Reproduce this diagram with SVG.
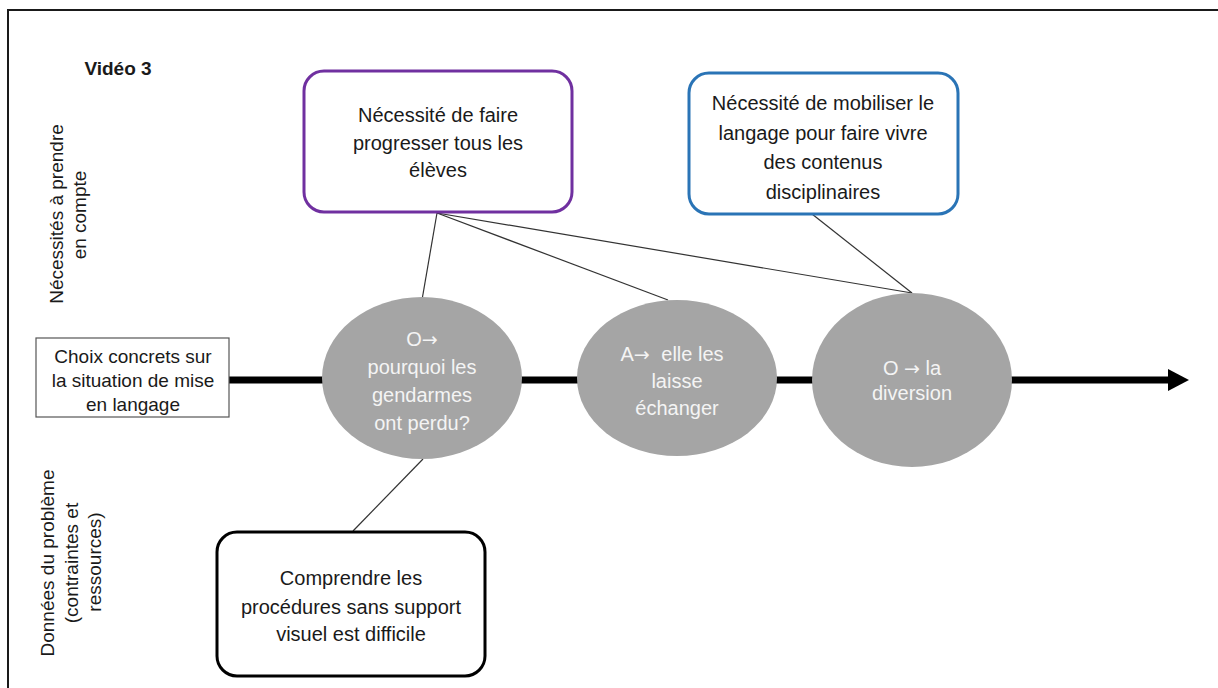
<svg xmlns="http://www.w3.org/2000/svg" width="1218" height="688" viewBox="0 0 1218 688">
<style>
text{font-family:"Liberation Sans",Arial,sans-serif;fill:#1a1a1a;}
.t{font-size:20px;text-anchor:middle;}
.s{font-size:19px;text-anchor:middle;}
.w{font-size:20px;text-anchor:middle;fill:#f4f4f4;}
.ar{font-family:"DejaVu Sans",sans-serif;font-size:19px;}
.ell{fill:#a5a5a5;}
.con{stroke:#333;stroke-width:1.2;fill:none;}
</style>
<rect width="1218" height="688" fill="#fff"/>
<rect x="8" y="10" width="1230" height="700" fill="none" stroke="#1a1a1a" stroke-width="2"/>

<g id="labels">
<text x="118" y="75" style="font-size:19px;font-weight:bold;text-anchor:middle">Vidéo 3</text>
<text class="s" transform="translate(63,214) rotate(-90)">Nécessités à prendre</text>
<text class="s" transform="translate(86,215) rotate(-90)">en compte</text>
<text class="s" transform="translate(54,563) rotate(-90)">Données du problème</text>
<text class="s" transform="translate(78,563) rotate(-90)">(contraintes et</text>
<text class="s" transform="translate(101,562) rotate(-90)">ressources)</text>
</g>

<g id="connectors">
<line x1="229" y1="380" x2="1172" y2="380" stroke="#000" stroke-width="7"/>
<polygon points="1168,369 1189,380 1168,391" fill="#000"/>
<line class="con" x1="437" y1="213" x2="422" y2="300"/>
<line class="con" x1="437" y1="213" x2="668" y2="300"/>
<line class="con" x1="437" y1="213" x2="912" y2="293"/>
<line class="con" x1="812" y1="214" x2="912" y2="293"/>
<line class="con" x1="423" y1="459" x2="353" y2="531"/>
</g>

<g id="choix">
<rect x="36" y="338" width="193" height="79" fill="#fff" stroke="#555" stroke-width="1.2"/>
<text class="s" x="133" y="363">Choix concrets sur</text>
<text class="s" x="133" y="387">la situation de mise</text>
<text class="s" x="133" y="411">en langage</text>
</g>

<g id="purple">
<rect x="304" y="71" width="268" height="141" rx="20" fill="#fff" stroke="#7030a0" stroke-width="3"/>
<text class="t" x="438" y="122">Nécessité de faire</text>
<text class="t" x="438" y="150">progresser tous les</text>
<text class="t" x="438" y="177">élèves</text>
</g>

<g id="blue">
<rect x="689" y="73" width="269" height="141" rx="20" fill="#fff" stroke="#2a74b6" stroke-width="3"/>
<text class="t" x="823" y="110">Nécessité de mobiliser le</text>
<text class="t" x="823" y="140">langage pour faire vivre</text>
<text class="t" x="823" y="169">des contenus</text>
<text class="t" x="823" y="199">disciplinaires</text>
</g>

<g id="e1">
<ellipse class="ell" cx="422" cy="378" rx="100" ry="81"/>
<text class="w" x="422" y="346">O<tspan class="ar">→</tspan></text>
<text class="w" x="422" y="374">pourquoi les</text>
<text class="w" x="422" y="402">gendarmes</text>
<text class="w" x="422" y="430">ont perdu?</text>
</g>

<g id="e2">
<ellipse class="ell" cx="677" cy="378" rx="100" ry="78"/>
<text class="w" x="672" y="361">A<tspan class="ar">→</tspan><tspan dx="6"> elle les</tspan></text>
<text class="w" x="677" y="388">laisse</text>
<text class="w" x="677" y="415">échanger</text>
</g>

<g id="e3">
<ellipse class="ell" cx="912" cy="380" rx="100" ry="87"/>
<text class="w" x="912" y="375">O <tspan class="ar">→</tspan> la</text>
<text class="w" x="912" y="400">diversion</text>
</g>

<g id="noir">
<rect x="217" y="532" width="268" height="144" rx="20" fill="#fff" stroke="#000" stroke-width="3"/>
<text class="t" x="351" y="585">Comprendre les</text>
<text class="t" x="351" y="614">procédures sans support</text>
<text class="t" x="351" y="641">visuel est difficile</text>
</g>
</svg>
